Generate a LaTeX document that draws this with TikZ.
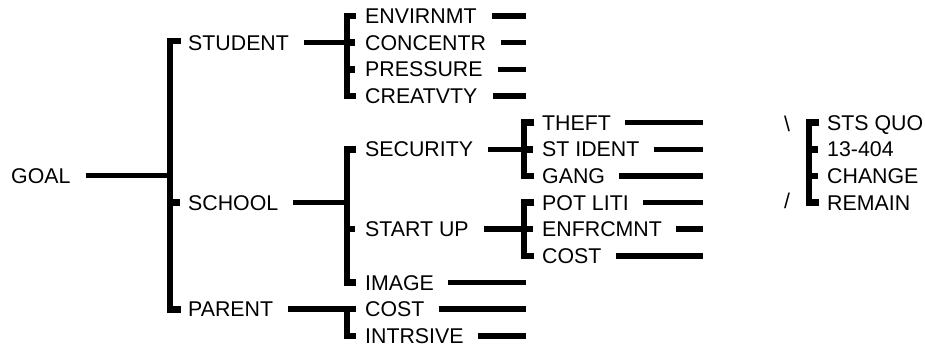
\documentclass[tikz,border=0pt]{standalone}
\usepackage{fontspec}
\setmainfont{Liberation Sans}
\begin{document}
\begin{tikzpicture}[x=1pt,y=-1pt,
  lbl/.style={anchor=west, inner sep=0pt, text height=15.3pt, text depth=0pt,
              font=\fontsize{21.33}{25}\selectfont},
  sym/.style={anchor=center, inner sep=0pt, font=\fontsize{21.33}{25}\selectfont},
  conn/.style={line width=5.5pt},
  brk/.style={line width=6.5pt, line join=miter},
  tick/.style={line width=6.5pt}]
\useasboundingbox (0,0) rectangle (925,347);

% ---------- labels ----------
\node[lbl] (goal)    at (11,175.5)  {GOAL};
\node[lbl] (student) at (188,42.7)  {STUDENT};
\node[lbl] (school)  at (188,202.6) {SCHOOL};
\node[lbl] (parent)  at (188,309.2) {PARENT};

\node[lbl] (env)   at (365,16)    {ENVIRNMT};
\node[lbl] (conc)  at (365,42.7)  {CONCENTR};
\node[lbl] (pres)  at (365,69.3)  {PRESSURE};
\node[lbl] (creat) at (365,96)    {CREATVTY};

\node[lbl] (sec)   at (365,149.3) {SECURITY};
\node[lbl] (start) at (365,229.2) {START UP};
\node[lbl] (image) at (365,282.5) {IMAGE};

\node[lbl] (pcost) at (365,309.2) {COST};
\node[lbl] (intr)  at (365,335.8) {INTRSIVE};

\node[lbl] (theft) at (542,122.6) {THEFT};
\node[lbl] (stid)  at (542,149.3) {ST IDENT};
\node[lbl] (gang)  at (542,176)   {GANG};
\node[lbl] (pot)   at (542,202.6) {POT LITI};
\node[lbl] (enf)   at (542,229.2) {ENFRCMNT};
\node[lbl] (scost) at (542,255.9) {COST};

\node[sym] (bs) at (787,123.5) {\textbackslash};
\node[sym] (sl) at (787,201) {/};

\node[lbl] (sts)  at (827,122.6) {STS QUO};
\node[lbl] (n134) at (827,149.3) {13-404};
\node[lbl] (chg)  at (827,176)   {CHANGE};
\node[lbl] (rem)  at (827,202.6) {REMAIN};

% ---------- bracket junction coordinates ----------
\coordinate (mainj)  at (170,175.5);
\coordinate (studj)  at (347,42.7);
\coordinate (schj)   at (347,202.6);
\coordinate (parj)   at (347,309.2);
\coordinate (secj)   at (524,149.3);
\coordinate (startj) at (524,229.2);

% ---------- free ends of leaf lines ----------
\coordinate (e1) at (526,16);
\coordinate (e2) at (526,42.7);
\coordinate (e3) at (526,69.3);
\coordinate (e4) at (526,96);
\coordinate (e5) at (526,282.5);
\coordinate (e6) at (526,309.2);
\coordinate (e7) at (526,335.8);
\coordinate (f1) at (703,122.6);
\coordinate (f2) at (703,149.3);
\coordinate (f3) at (703,176);
\coordinate (f4) at (703,202.6);
\coordinate (f5) at (703,229.2);
\coordinate (f6) at (703,255.9);

% ---------- brackets ----------
% main
\draw[brk] (181,41) -- (170,41) -- (170,309.5) -- (181,309.5);
\draw[tick] (170,202.6) -- (180,202.6);
% student
\draw[brk] (356,16) -- (347,16) -- (347,96) -- (356,96);
\draw[tick] (347,42.7) -- (355,42.7);
\draw[tick] (347,69.3) -- (355,69.3);
% school
\draw[brk] (356,149.3) -- (347,149.3) -- (347,282.5) -- (356,282.5);
\draw[tick] (347,229.2) -- (355,229.2);
% parent
\draw[brk] (356,309.2) -- (347,309.2) -- (347,335.8) -- (356,335.8);
% security
\draw[brk] (534,122.6) -- (524,122.6) -- (524,176) -- (534,176);
\draw[tick] (524,149.3) -- (533,149.3);
% start up
\draw[brk] (534,202.6) -- (524,202.6) -- (524,255.9) -- (534,255.9);
\draw[tick] (524,229.2) -- (533,229.2);
% final
\draw[brk] (819,122.6) -- (809,122.6) -- (809,202.6) -- (819,202.6);
\draw[tick] (809,149.3) -- (818,149.3);
\draw[tick] (809,176) -- (818,176);

% ---------- connectors ----------
\draw[conn] ([xshift=15pt]goal.east)    -- (mainj);
\draw[conn] ([xshift=15pt]student.east) -- (studj);
\draw[conn] ([xshift=15pt]school.east)  -- (schj);
\draw[conn] ([xshift=15pt]parent.east)  -- (parj);
\draw[conn] ([xshift=15pt]sec.east)     -- (secj);
\draw[conn] ([xshift=15pt]start.east)   -- (startj);

\draw[conn] ([xshift=15pt]env.east)   -- (e1);
\draw[conn] ([xshift=15pt]conc.east)  -- (e2);
\draw[conn] ([xshift=15pt]pres.east)  -- (e3);
\draw[conn] ([xshift=15pt]creat.east) -- (e4);
\draw[conn] ([xshift=14pt]image.east) -- (e5);
\draw[conn] ([xshift=14pt]pcost.east) -- (e6);
\draw[conn] ([xshift=14pt]intr.east)  -- (e7);

\draw[conn] ([xshift=14pt]theft.east) -- (f1);
\draw[conn] ([xshift=14pt]stid.east)  -- (f2);
\draw[conn] ([xshift=14pt]gang.east)  -- (f3);
\draw[conn] ([xshift=14pt]pot.east)   -- (f4);
\draw[conn] ([xshift=14pt]enf.east)   -- (f5);
\draw[conn] ([xshift=14pt]scost.east) -- (f6);
\end{tikzpicture}
\end{document}
